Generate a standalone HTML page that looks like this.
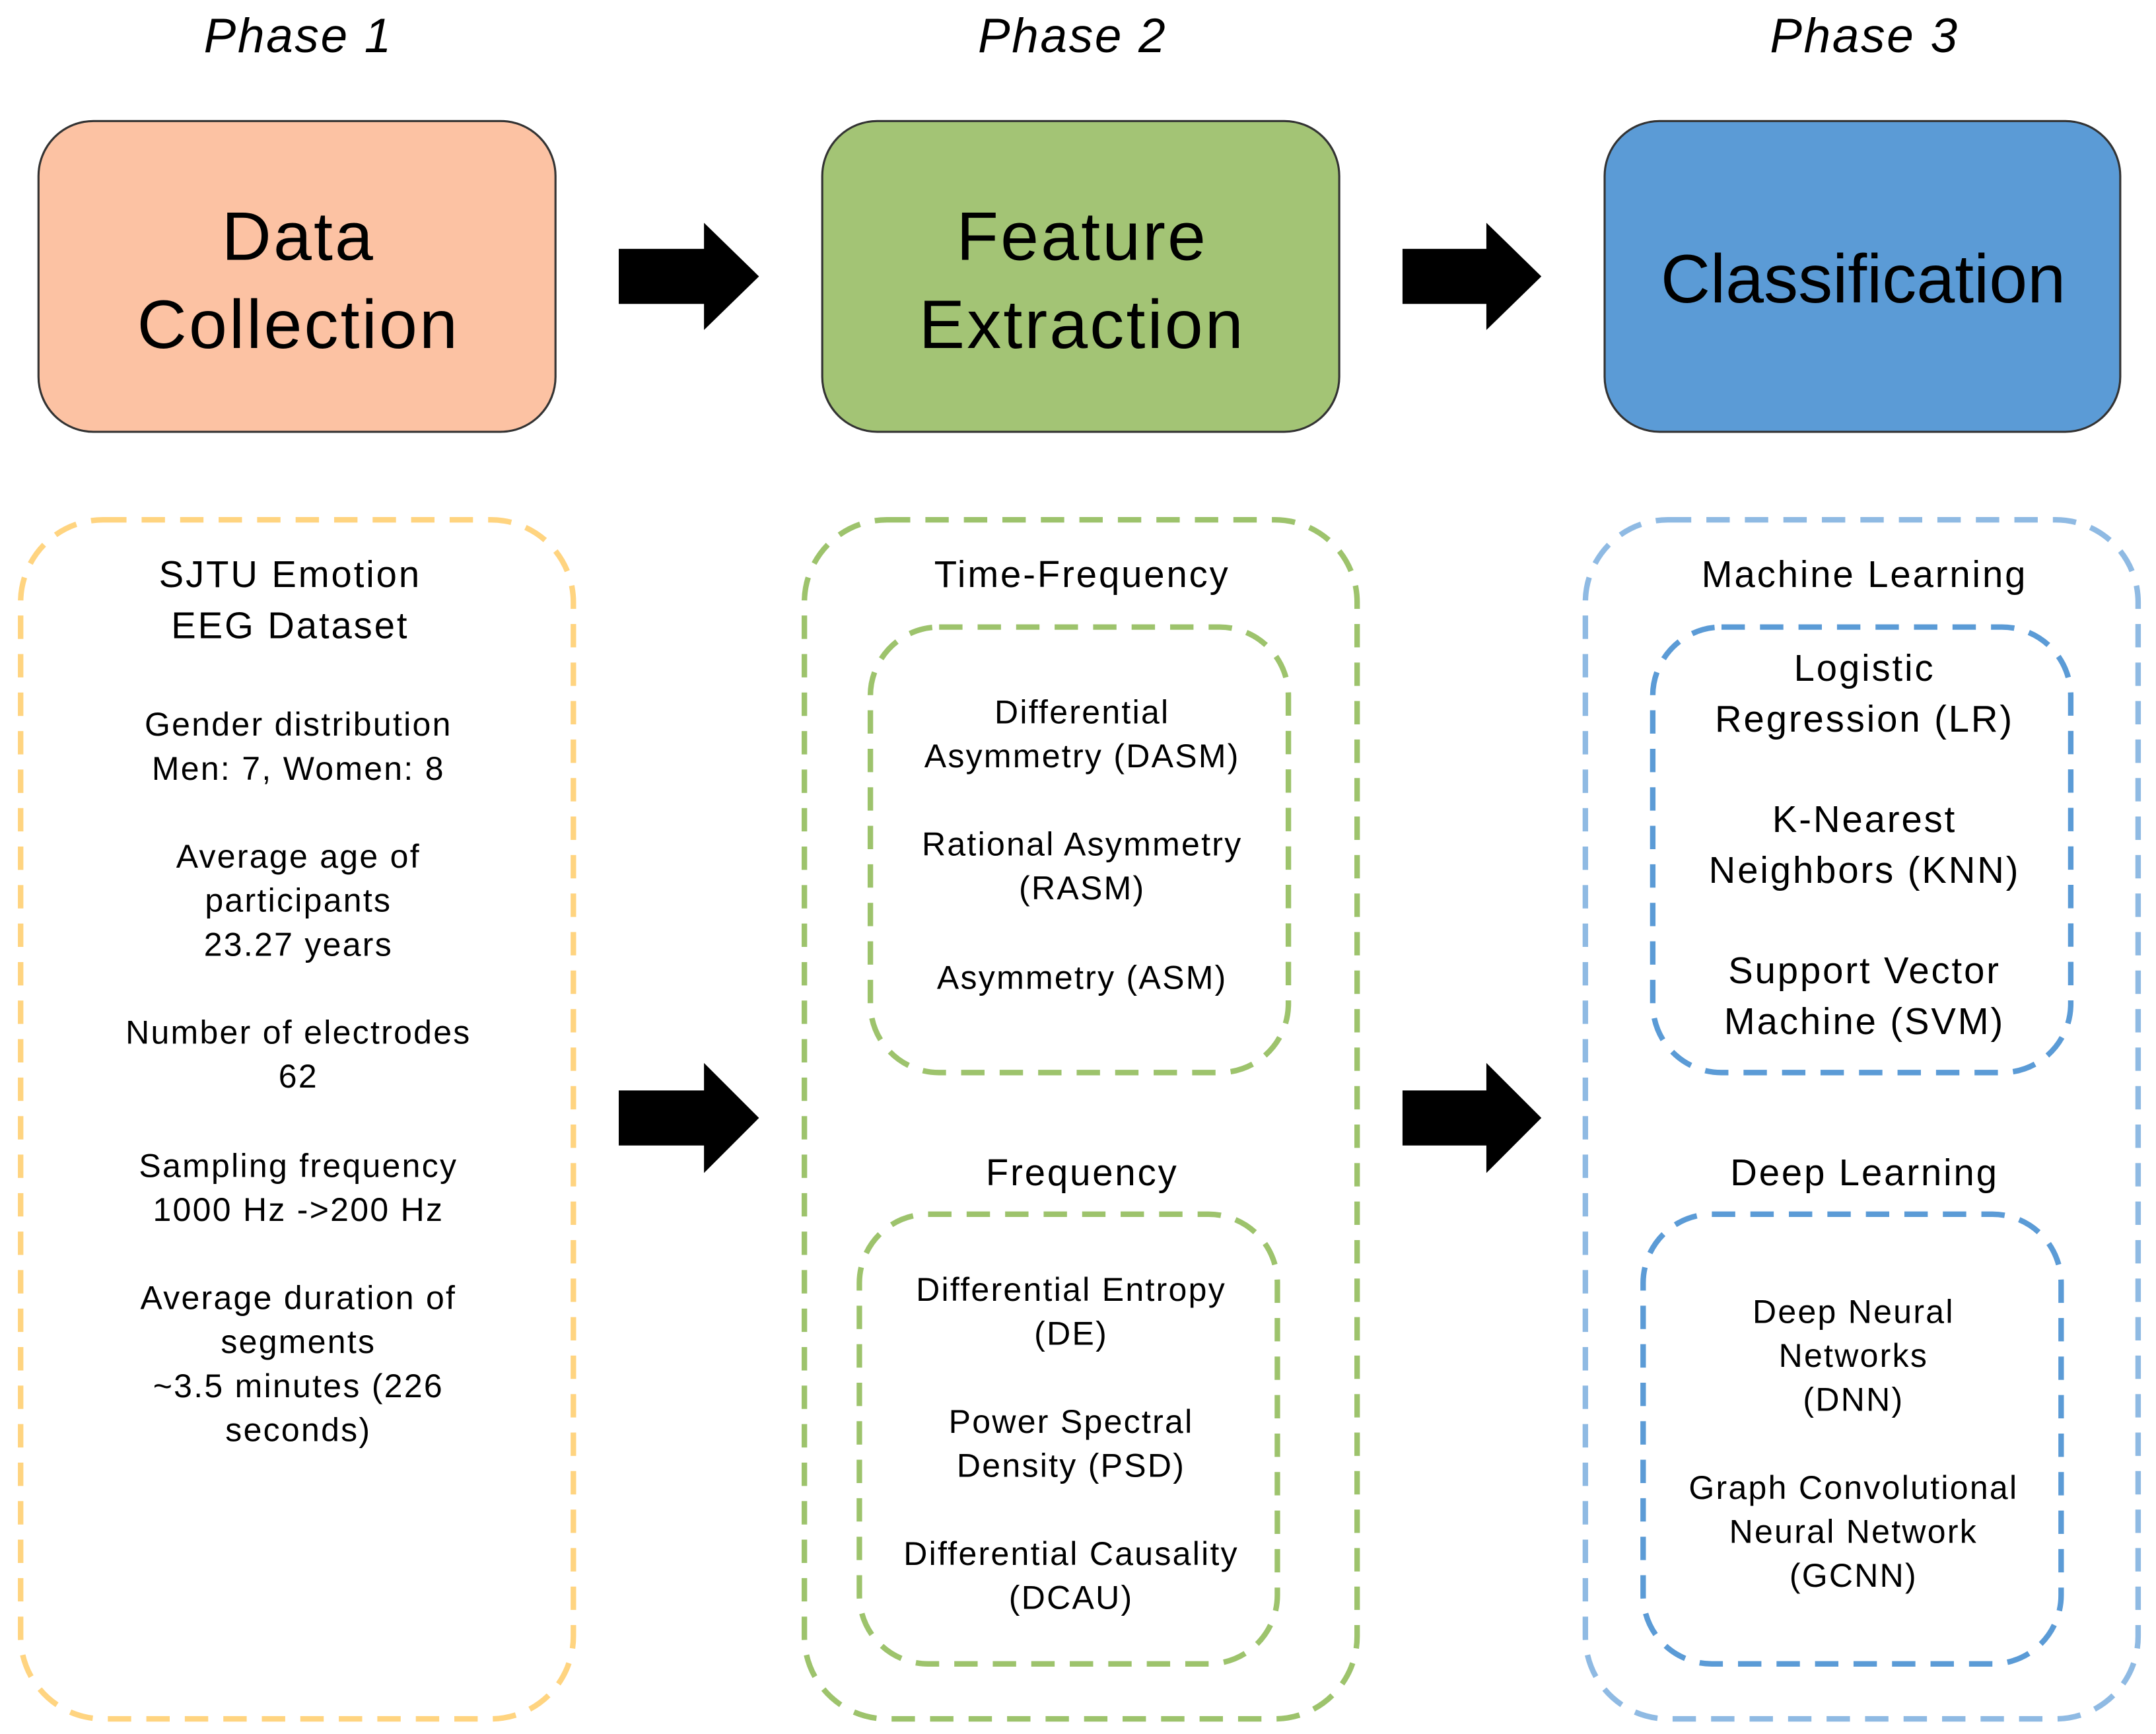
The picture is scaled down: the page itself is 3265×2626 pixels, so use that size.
<!DOCTYPE html>
<html><head><meta charset="utf-8"><style>html,body{margin:0;padding:0;background:#fff}svg{display:block}</style></head>
<body>
<svg width="3265" height="2626" viewBox="0 0 1568 1261" preserveAspectRatio="none" xmlns="http://www.w3.org/2000/svg" font-family="Liberation Sans, Arial, sans-serif" text-anchor="middle" fill="#000">
<g font-style="italic" font-size="35" letter-spacing="1.3">
<text x="217" y="38">Phase 1</text>
<text x="780" y="38">Phase 2</text>
<text x="1356" y="38">Phase 3</text>
</g>
<rect x="28" y="88" width="376" height="226" rx="40" fill="#fcc2a3" stroke="#333" stroke-width="1.5"/>
<rect x="598" y="88" width="376" height="226" rx="40" fill="#a3c475" stroke="#333" stroke-width="1.5"/>
<rect x="1167" y="88" width="375" height="226" rx="40" fill="#5b9bd6" stroke="#333" stroke-width="1.5"/>
<g font-size="50">
<text x="217" y="189" letter-spacing="1.5">Data</text>
<text x="217" y="253" letter-spacing="1.5">Collection</text>
<text x="787" y="189" letter-spacing="1.5">Feature</text>
<text x="787" y="253" letter-spacing="1.5">Extraction</text>
<text x="1355" y="220">Classification</text>
</g>
<g fill="#000">
<polygon points="450,181 512,181 512,162 552,201 512,240 512,221 450,221"/>
<polygon points="1020,181 1081,181 1081,162 1121,201 1081,240 1081,221 1020,221"/>
<polygon points="450,793 512,793 512,773 552,813 512,853 512,833 450,833"/>
<polygon points="1020,793 1081,793 1081,773 1121,813 1081,853 1081,833 1020,833"/>
</g>
<g fill="none" stroke-width="4" stroke-dasharray="17 11">
<rect x="15" y="378" width="402" height="872" rx="60" stroke="#ffd480"/>
<rect x="585" y="378" width="402" height="872" rx="60" stroke="#9dc36c"/>
<rect x="633" y="456" width="304" height="324" rx="50" stroke="#9dc36c"/>
<rect x="625" y="883" width="304" height="327" rx="50" stroke="#9dc36c"/>
<rect x="1153" y="378" width="402" height="872" rx="60" stroke="#8fbae3"/>
<rect x="1202" y="456" width="304" height="324" rx="50" stroke="#5b9bd6"/>
<rect x="1195" y="883" width="304" height="327" rx="50" stroke="#5b9bd6"/>
</g>
<g font-size="27" letter-spacing="1.4">
<text x="211" y="427">SJTU Emotion</text>
<text x="211" y="464">EEG Dataset</text>
<text x="787" y="427">Time-Frequency</text>
<text x="787" y="862">Frequency</text>
<text x="1356" y="427">Machine Learning</text>
<text x="1356" y="862">Deep Learning</text>
<text x="1356" y="495">Logistic</text>
<text x="1356" y="532">Regression (LR)</text>
<text x="1356" y="605">K-Nearest</text>
<text x="1356" y="642">Neighbors (KNN)</text>
<text x="1356" y="715">Support Vector</text>
<text x="1356" y="752">Machine (SVM)</text>
</g>
<g font-size="24" letter-spacing="1.1">
<text x="217" y="535">Gender distribution</text>
<text x="217" y="567">Men: 7, Women: 8</text>
<text x="217" y="631">Average age of</text>
<text x="217" y="663">participants</text>
<text x="217" y="695">23.27 years</text>
<text x="217" y="759">Number of electrodes</text>
<text x="217" y="791">62</text>
<text x="217" y="856">Sampling frequency</text>
<text x="217" y="888">1000 Hz -&gt;200 Hz</text>
<text x="217" y="952">Average duration of</text>
<text x="217" y="984">segments</text>
<text x="217" y="1016">~3.5 minutes (226</text>
<text x="217" y="1048">seconds)</text>
<text x="787" y="526">Differential</text>
<text x="787" y="558">Asymmetry (DASM)</text>
<text x="787" y="622">Rational Asymmetry</text>
<text x="787" y="654">(RASM)</text>
<text x="787" y="719">Asymmetry (ASM)</text>
<text x="779" y="946">Differential Entropy</text>
<text x="779" y="978">(DE)</text>
<text x="779" y="1042">Power Spectral</text>
<text x="779" y="1074">Density (PSD)</text>
<text x="779" y="1138">Differential Causality</text>
<text x="779" y="1170">(DCAU)</text>
<text x="1348" y="962">Deep Neural</text>
<text x="1348" y="994">Networks</text>
<text x="1348" y="1026">(DNN)</text>
<text x="1348" y="1090">Graph Convolutional</text>
<text x="1348" y="1122">Neural Network</text>
<text x="1348" y="1154">(GCNN)</text>
</g>
</svg>
</body></html>
